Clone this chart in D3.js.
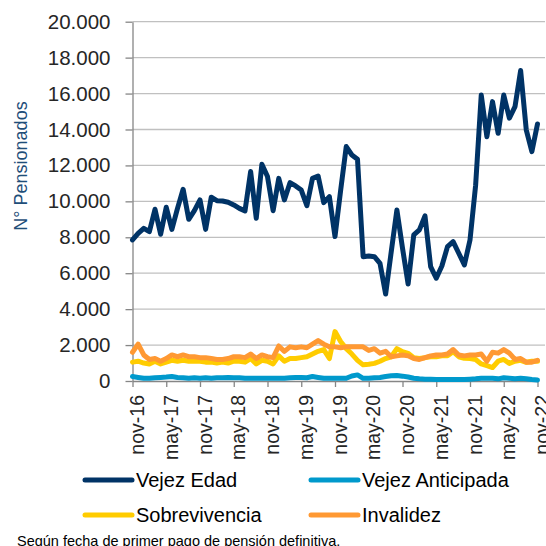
<!DOCTYPE html>
<html>
<head>
<meta charset="utf-8">
<script src="https://cdn.jsdelivr.net/npm/d3@7"></script>
<style>
  body { margin: 0; background: #fff; }
  svg { display: block; font-family: "Liberation Sans", Arial, sans-serif; }
</style>
</head>
<body>
<div id="chart"></div>
<script>
// Months nov-16 .. nov-22
const monthNames = ["ene", "feb", "mar", "abr", "may", "jun", "jul", "ago", "sep", "oct", "nov", "dic"];
const months = [];
let mm = 10, yy = 16;
while (months.length < 73) {
    months.push(monthNames[mm] + "-" + yy);
    mm++;
    if (mm === 12) { mm = 0; yy++; }
}

const tickLabels = ["nov-16", "may-17", "nov-17", "may-18", "nov-18", "may-19", "nov-19",
                    "may-20", "nov-20", "may-21", "nov-21", "may-22", "nov-22"];
const yTicks = [0, 2000, 4000, 6000, 8000, 10000, 12000, 14000, 16000, 18000, 20000];

const seriesNames = ["Vejez Edad", "Vejez Anticipada", "Sobrevivencia", "Invalidez"];

const vejezEdad = [
    7850, 8220, 8500, 8310, 9560, 8170, 9670, 8440, 9610, 10670,
    9000, 9480, 10080, 8440, 10230, 10040, 10020, 9950, 9800, 9610,
    9470, 11660, 9060, 12060, 11380, 9480, 11280, 10080, 11040, 10860,
    10630, 9760, 11280, 11410, 9930, 10260, 8040, 10600, 13050, 12580,
    12340, 6920, 6960, 6920, 6550, 4840, 7200, 9520, 7400, 5400,
    8130, 8410, 9190, 6370, 5720, 6400, 7480, 7760, 7110, 6460,
    7850, 10900, 15920, 13600, 15550, 13790, 15920, 14630, 15270, 17280,
    13980, 12770, 14310
];
const vejezAnticipada = [
    250, 200, 150, 150, 180, 200, 220, 250, 200, 180,
    150, 180, 150, 180, 150, 180, 180, 200, 180, 180,
    150, 150, 150, 150, 150, 150, 150, 150, 180, 200,
    200, 180, 250, 200, 150, 150, 150, 150, 150, 280,
    340, 150, 150, 180, 200, 250, 290, 310, 270, 220,
    150, 120, 100, 100, 80, 80, 80, 80, 80, 80,
    100, 120, 150, 150, 150, 120, 180, 150, 120, 150,
    120, 80, 50
];
const sobrevivencia = [
    1050, 1100, 1000, 950, 1100, 950, 1050, 1150, 1100, 1150,
    1100, 1100, 1100, 1050, 1050, 1000, 1050, 1000, 1100, 1100,
    1050, 1250, 950, 1150, 1100, 950, 1400, 1100, 1250, 1250,
    1300, 1350, 1500, 1650, 1750, 1250, 2750, 2200, 1800, 1500,
    1150, 900, 930, 980, 1100, 1250, 1350, 1800, 1630, 1540,
    1300, 1260, 1300, 1350, 1350, 1400, 1400, 1630, 1350, 1260,
    1250, 1200, 950, 850, 750, 1100, 1200, 980, 1100, 1150,
    1040, 1100, 1100
];
const invalidez = [
    1600, 2050, 1450, 1200, 1250, 1100, 1250, 1450, 1350, 1450,
    1350, 1350, 1300, 1300, 1250, 1200, 1200, 1250, 1350, 1350,
    1300, 1500, 1250, 1450, 1350, 1300, 1950, 1650, 1900, 1850,
    1900, 1850, 2050, 2250, 2050, 1900, 1900, 1850, 1900, 1900,
    1900, 1900, 1700, 1800, 1550, 1650, 1350, 1400, 1450, 1400,
    1250, 1200, 1300, 1400, 1450, 1450, 1500, 1750, 1450, 1400,
    1450, 1450, 1500, 1100, 1600, 1550, 1750, 1550, 1200, 1250,
    1050, 1050, 1150
];

const colors = ["#003366", "#0099CC", "#FFCC00", "#FF9933"];
const seriesValues = [vejezEdad, vejezAnticipada, sobrevivencia, invalidez];

const width = 546, height = 546;
const plot = { left: 132.5, right: 537.5, top: 21.7, bottom: 381 };

const svg = d3.select("#chart").append("svg")
    .attr("width", width)
    .attr("height", height);

const x = d3.scalePoint()
    .domain(months)
    .range([plot.left, plot.right]);

const y = d3.scaleLinear()
    .domain([0, 20000])
    .range([plot.bottom, plot.top]);

const fmt = d3.formatLocale({ decimal: ",", thousands: ".", grouping: [3], currency: ["$", ""] }).format(",");

// Gridlines
svg.append("g")
    .selectAll("line")
    .data(yTicks.slice(1))
    .join("line")
    .attr("x1", plot.left)
    .attr("x2", 545)
    .attr("y1", d => y(d))
    .attr("y2", d => y(d))
    .attr("stroke", "#c0c0c0")
    .attr("stroke-width", 1.3);

// Y axis
const yAxisG = svg.append("g")
    .attr("transform", `translate(${plot.left},0)`)
    .call(d3.axisLeft(y).tickValues(yTicks).tickSize(7).tickSizeOuter(0).tickPadding(15).tickFormat(fmt));
yAxisG.select(".domain").attr("stroke", "#868686").attr("stroke-width", 1.3);
yAxisG.selectAll(".tick line").attr("stroke", "#868686").attr("stroke-width", 1.3);
yAxisG.selectAll(".tick text")
    .attr("font-size", 20.5)
    .attr("font-family", "Liberation Sans, Arial, sans-serif")
    .attr("fill", "#262626");

// X axis
const xAxisG = svg.append("g")
    .attr("transform", `translate(0,${plot.bottom})`)
    .call(d3.axisBottom(x).tickValues(tickLabels).tickSize(6).tickSizeOuter(0));
xAxisG.select(".domain").attr("stroke", "#868686").attr("stroke-width", 1.3);
xAxisG.selectAll(".tick line").attr("stroke", "#868686").attr("stroke-width", 1.3);
xAxisG.selectAll(".tick text")
    .attr("font-size", 19.5)
    .attr("font-family", "Liberation Sans, Arial, sans-serif")
    .attr("fill", "#262626")
    .attr("text-anchor", "end")
    .attr("transform", "rotate(-90)")
    .attr("x", -14)
    .attr("y", 11)
    .attr("dy", null);

// Y axis title
svg.append("text")
    .attr("transform", "translate(27,166) rotate(-90)")
    .attr("text-anchor", "middle")
    .attr("font-size", 18)
    .attr("fill", "#1F4E79")
    .text("N° Pensionados");

// Lines
const line = d3.line()
    .x((d, i) => x(months[i]))
    .y(d => y(d));

svg.append("g")
    .selectAll("path")
    .data(seriesValues)
    .join("path")
    .attr("d", d => line(d))
    .attr("fill", "none")
    .attr("stroke", (d, i) => colors[i])
    .attr("stroke-width", 5)
    .attr("stroke-linejoin", "round")
    .attr("stroke-linecap", "round");

// Legend
const legendPos = [
    { x: 85, y: 480 }, { x: 311, y: 480 },
    { x: 85, y: 515 }, { x: 311, y: 515 }
];
const legend = svg.append("g")
    .selectAll("g")
    .data(seriesNames)
    .join("g")
    .attr("transform", (d, i) => `translate(${legendPos[i].x},${legendPos[i].y})`);
legend.append("line")
    .attr("x1", 0).attr("x2", 47)
    .attr("stroke", (d, i) => colors[i])
    .attr("stroke-width", 5)
    .attr("stroke-linecap", "round");
legend.append("text")
    .attr("x", 51)
    .attr("y", 7)
    .attr("font-size", 20)
    .attr("fill", "#000")
    .text(d => d);

// Footnote
svg.append("text")
    .attr("x", 17)
    .attr("y", 546)
    .attr("font-size", 14.5)
    .attr("fill", "#000")
    .text("Según fecha de primer pago de pensión definitiva.");
</script>
</body>
</html>
